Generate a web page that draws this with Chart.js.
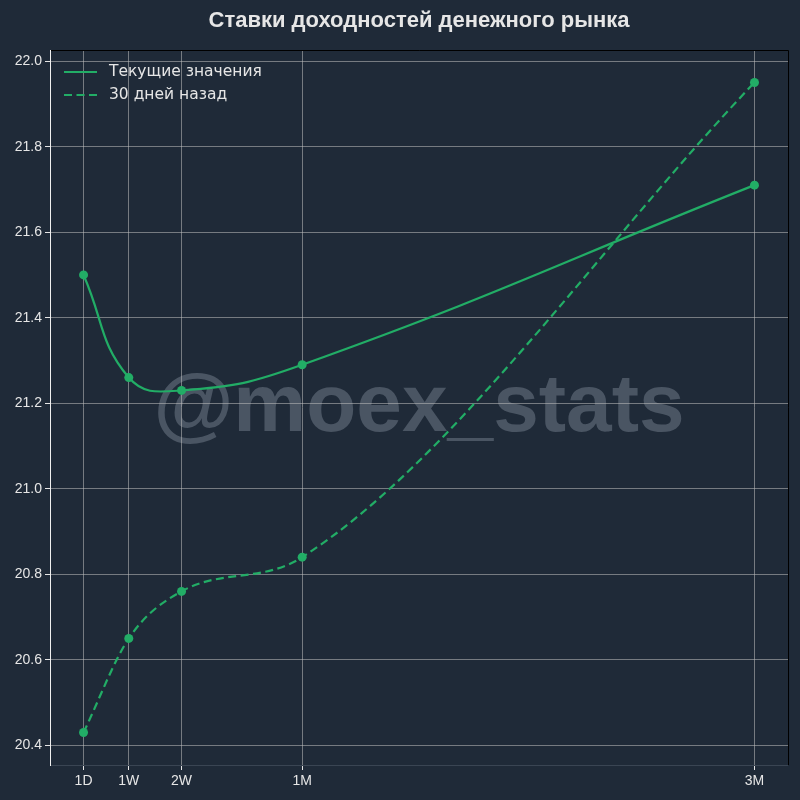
<!DOCTYPE html>
<html>
<head>
<meta charset="utf-8">
<script src="https://cdn.jsdelivr.net/npm/chart.js@4.4.0/dist/chart.umd.min.js"></script>
<style>
  html, body { margin: 0; background: #1f2a38; }
</style>
</head>
<body>
<canvas id="chart" width="800" height="800"></canvas>
<script>
// data
const tenors = ['1D', '1W', '2W', '1M', '3M'];
const tenorDays = [1, 7, 14, 30, 90];
const currentRates = [21.50, 21.26, 21.23, 21.29, 21.71];
const monthAgoRates = [20.43, 20.65, 20.76, 20.84, 21.95];
const yTicks = [20.4, 20.6, 20.8, 21.0, 21.2, 21.4, 21.6, 21.8, 22.0];
const seriesNames = ['Текущие значения', '30 дней назад'];

const BG = '#1f2a38';
const GREEN = '#22ad66';
const TEXT = '#e6e6e6';

const toPoints = (vals) => vals.map((v, i) => ({ x: tenorDays[i], y: v }));

// background, title and watermark (under the grid)
const backdrop = {
  id: 'backdrop',
  beforeDraw(chart) {
    const { ctx, chartArea: a } = chart;
    ctx.save();
    ctx.fillStyle = BG;
    ctx.fillRect(0, 0, chart.width, chart.height);

    ctx.fillStyle = TEXT;
    ctx.font = 'bold 22px "Liberation Sans", Arial, sans-serif';
    ctx.textAlign = 'center';
    ctx.textBaseline = 'middle';
    ctx.fillText('Ставки доходностей денежного рынка', (a.left + a.right) / 2, 21);

    ctx.fillStyle = '#4a5563';
    ctx.font = 'bold 82px "Liberation Sans", Arial, sans-serif';
    ctx.fillText('@moex_stats', (a.left + a.right) / 2, 408);
    ctx.restore();
  }
};

// spines and legend
const frame = {
  id: 'frame',
  afterDraw(chart) {
    const { ctx, chartArea: a } = chart;
    ctx.save();
    ctx.lineWidth = 1;
    ctx.strokeStyle = '#000000';
    ctx.beginPath();
    ctx.moveTo(a.left, a.top + 0.5);
    ctx.lineTo(a.right + 0.5, a.top + 0.5);
    ctx.lineTo(a.right + 0.5, a.bottom);
    ctx.stroke();
    ctx.strokeStyle = '#3a4553';
    ctx.beginPath();
    ctx.moveTo(a.left, a.bottom + 0.5);
    ctx.lineTo(a.right, a.bottom + 0.5);
    ctx.stroke();
    ctx.strokeStyle = '#f0f0f0';
    ctx.beginPath();
    ctx.moveTo(a.left + 0.5, a.top);
    ctx.lineTo(a.left + 0.5, a.bottom + 1);
    ctx.stroke();

    // legend
    ctx.font = '15.5px "DejaVu Sans", sans-serif';
    ctx.textBaseline = 'middle';
    ctx.textAlign = 'left';
    chart.data.datasets.forEach((ds, i) => {
      const y = 72 + i * 23;
      ctx.strokeStyle = ds.borderColor;
      ctx.lineWidth = 2;
      ctx.setLineDash(ds.borderDash || []);
      ctx.beginPath();
      ctx.moveTo(64, y);
      ctx.lineTo(97, y);
      ctx.stroke();
      ctx.setLineDash([]);
      ctx.fillStyle = TEXT;
      ctx.fillText(seriesNames[i], 109, y);
    });
    ctx.restore();
  }
};

new Chart(document.getElementById('chart'), {
  type: 'line',
  data: {
    datasets: [
      {
        label: seriesNames[0],
        data: toPoints(currentRates),
        borderColor: GREEN,
        backgroundColor: GREEN,
        pointBackgroundColor: GREEN,
        borderWidth: 2.2,
        pointRadius: 4.5,
        pointBorderWidth: 0,
        tension: 0.45
      },
      {
        label: seriesNames[1],
        data: toPoints(monthAgoRates),
        borderColor: GREEN,
        backgroundColor: GREEN,
        pointBackgroundColor: GREEN,
        borderWidth: 2.2,
        borderDash: [8, 4.5],
        pointRadius: 4.5,
        pointBorderWidth: 0,
        cubicInterpolationMode: 'monotone'
      }
    ]
  },
  options: {
    responsive: false,
    animation: false,
    devicePixelRatio: 1,
    layout: { padding: { top: 50, right: 12, left: 0, bottom: 0 } },
    plugins: {
      legend: { display: false },
      tooltip: { enabled: false }
    },
    scales: {
      x: {
        type: 'linear',
        min: -3.45,
        max: 94.45,
        afterBuildTicks: (s) => { s.ticks = tenorDays.map(v => ({ value: v })); },
        afterFit: (s) => { s.height = 35; },
        ticks: {
          color: TEXT,
          font: { size: 14, family: '"Liberation Sans", Arial, sans-serif' },
          padding: 3,
          maxRotation: 0,
          callback: (v) => tenors[tenorDays.indexOf(v)]
        },
        grid: {
          color: 'rgba(190,190,190,0.55)',
          lineWidth: 1,
          tickColor: TEXT,
          tickLength: 5
        },
        border: { display: false }
      },
      y: {
        type: 'linear',
        min: 20.354,
        max: 22.026,
        afterBuildTicks: (s) => { s.ticks = yTicks.map(v => ({ value: v })); },
        afterFit: (s) => { s.width = 50; },
        ticks: {
          color: TEXT,
          font: { size: 14, family: '"Liberation Sans", Arial, sans-serif' },
          padding: 3,
          callback: (v) => v.toFixed(1)
        },
        grid: {
          color: 'rgba(190,190,190,0.55)',
          lineWidth: 1,
          tickColor: TEXT,
          tickLength: 5
        },
        border: { display: false }
      }
    }
  },
  plugins: [backdrop, frame]
});
</script>
</body>
</html>
